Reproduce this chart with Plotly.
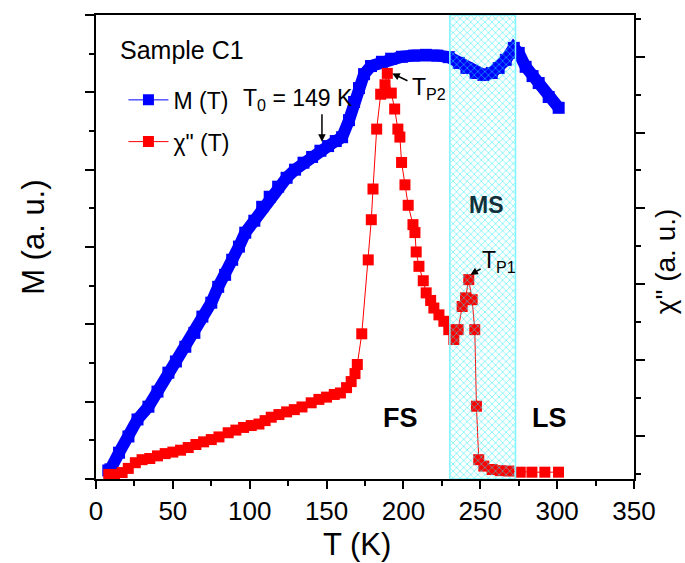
import plotly.graph_objects as go

FONT = "Liberation Sans, Arial, sans-serif"

# Magnetisation M(T), left axis (a. u.)
m_temp = [8, 9.4, 15, 21.1, 27, 34.1, 40, 47.1, 52, 58.1, 64, 69.2, 75, 79.5, 84,
          88.6, 93, 97.1, 103, 108.1, 113, 118.5, 124, 129.5, 135, 140.6, 146, 151,
          156, 160.1, 164.6, 167.9, 171.1, 174.4, 178.9, 186, 192, 199, 207, 214.6,
          222, 229.5, 236, 241, 247, 252, 257.5, 262, 266.6, 271.8, 275, 279.5, 284,
          288, 294.5, 301]
m_val = [0.22, 0.25, 0.68, 1.10, 1.54, 1.87, 2.26, 2.75, 3.04, 3.42, 3.78, 4.20, 4.56,
         4.97, 5.28, 5.67, 6.01, 6.37, 6.68, 7.04, 7.30, 7.56, 7.79, 8.00, 8.18, 8.33,
         8.49, 8.61, 8.74, 8.84, 9.28, 9.75, 10.11, 10.47, 10.68, 10.79, 10.87, 10.92,
         10.95, 10.97, 10.95, 10.91, 10.76, 10.63, 10.50, 10.45, 10.50, 10.63, 10.84,
         11.15, 11.02, 10.66, 10.42, 10.24, 9.88, 9.60]

# Imaginary ac susceptibility chi''(T), right axis (a. u.)
chi_temp = [8.3, 12, 17, 21, 25.6, 30, 35, 40, 45, 50, 55, 60, 65, 70, 75, 80, 86, 91,
            96, 101, 106, 110, 114, 119, 124, 129, 134, 140, 145, 150, 155, 159, 163,
            166, 168.5, 170, 172.9, 177.1, 179.1, 180.2, 182.6, 185.2, 188, 189.5,
            192.1, 194.3, 196.4, 197.7, 198.8, 201, 203.1, 206.2, 207.5, 208.3, 210.1,
            212.9, 214.8, 217.7, 219.8, 223.1, 226.3, 229.5, 232.8, 235.6, 238.2,
            240.4, 242.5, 244.7, 246.4, 247.5, 249, 252.3, 257.7, 263, 268.5, 276,
            283.6, 292, 300.9]
chi_val = [-0.02, -0.02, 0.03, 0.14, 0.29, 0.37, 0.40, 0.47, 0.53, 0.57, 0.62, 0.69,
           0.77, 0.84, 0.90, 0.97, 1.08, 1.15, 1.22, 1.27, 1.31, 1.40, 1.49, 1.56, 1.63,
           1.69, 1.76, 1.87, 1.96, 2.02, 2.09, 2.13, 2.27, 2.43, 2.64, 2.88, 3.69, 5.64,
           6.70, 7.51, 9.09, 10.01, 10.26, 10.56, 10.04, 9.62, 9.09, 8.88, 8.21, 7.62,
           7.08, 6.57, 6.36, 5.85, 5.47, 5.09, 4.77, 4.57, 4.37, 4.19, 4.02, 3.80, 3.54,
           3.80, 4.41, 4.64, 5.12, 4.59, 3.80, 1.78, 0.37, 0.20, 0.11, 0.08, 0.07, 0.04,
           0.04, 0.04, 0.04]

# Temperature window of the mixed state (MS)
ms_window = [230.2, 272.9]

x_range = [0, 350]
m_range = [0, 12]
chi_range = [-0.14, 12.1]

fig = go.Figure()

fig.add_trace(go.Scatter(
    x=m_temp, y=m_val, mode="lines+markers", yaxis="y",
    line=dict(color="#0000ff", width=12), marker=dict(symbol="square", size=12, color="#0000ff"),
    showlegend=False, hoverinfo="skip"))

fig.add_trace(go.Scatter(
    x=chi_temp, y=chi_val, mode="lines+markers", yaxis="y2",
    line=dict(color="#ff0000", width=1), marker=dict(symbol="square", size=11, color="#ff0000"),
    showlegend=False, hoverinfo="skip"))

# hatched band marking the mixed-state window, laid over the data
x0, x1 = ms_window
fig.add_trace(go.Scatter(
    x=[x0, x1, x1, x0, x0], y=[chi_range[0], chi_range[0], chi_range[1], chi_range[1], chi_range[0]],
    yaxis="y2", mode="lines", fill="toself", fillcolor="rgba(0,0,0,0)",
    fillpattern=dict(shape="x", fgcolor="#22eef5", bgcolor="rgba(0,0,0,0)", size=5,
                     solidity=0.3, fgopacity=0.6),
    line=dict(color="#7ff6ff", width=1.5), showlegend=False, hoverinfo="skip"))

# legend entries
fig.add_trace(go.Scatter(
    x=[None], y=[None], mode="lines+markers", name="M (T)", legend="legend",
    line=dict(color="#0000ff", width=1), marker=dict(symbol="square", size=11, color="#0000ff")))
fig.add_trace(go.Scatter(
    x=[None], y=[None], mode="lines+markers", name="\u03c7\" (T)", legend="legend2",
    line=dict(color="#ff0000", width=1), marker=dict(symbol="square", size=11, color="#ff0000")))

axis_common = dict(showgrid=False, zeroline=False, showline=True, linecolor="black",
                   linewidth=1.5, ticks="outside", tickcolor="black", tickwidth=1.5)

text_font = dict(family=FONT, size=23, color="black")
title_font = dict(family=FONT, size=31, color="black")

annotations = [
    dict(x=14, y=11.10, xref="x", yref="y", text="Sample C1", showarrow=False,
         xanchor="left", yanchor="middle", font=dict(family=FONT, size=25, color="black")),
    dict(x=94.3, y=9.81, xref="x", yref="y", text="T<sub>0</sub> = 149 K", showarrow=False,
         xanchor="left", yanchor="middle", font=text_font),
    dict(x=147, y=8.72, ax=147, ay=9.47, xref="x", yref="y", axref="x", ayref="y", text="",
         showarrow=True, arrowhead=2, arrowsize=1, arrowwidth=1.5, arrowcolor="black"),
    dict(x=204.2, y=10.11, xref="x", yref="y", text="T<sub>P2</sub>", showarrow=False,
         xanchor="left", yanchor="middle", font=text_font),
    dict(x=192.7, y=10.49, ax=203.6, ay=10.28, xref="x", yref="y", axref="x", ayref="y",
         text="", showarrow=True, arrowhead=2, arrowsize=1, arrowwidth=1.5, arrowcolor="black"),
    dict(x=249.7, y=5.62, xref="x", yref="y", text="T<sub>P1</sub>", showarrow=False,
         xanchor="left", yanchor="middle", font=text_font),
    dict(x=243.6, y=5.28, ax=251.2, ay=5.46, xref="x", yref="y", axref="x", ayref="y",
         text="", showarrow=True, arrowhead=2, arrowsize=1, arrowwidth=1.5, arrowcolor="black"),
    dict(x=254.2, y=7.09, xref="x", yref="y", text="<b>MS</b>", showarrow=False,
         font=dict(family=FONT, size=23, color="#10303a")),
    dict(x=198.4, y=1.59, xref="x", yref="y", text="<b>FS</b>", showarrow=False,
         font=dict(family=FONT, size=27, color="black")),
    dict(x=295.1, y=1.59, xref="x", yref="y", text="<b>LS</b>", showarrow=False,
         font=dict(family=FONT, size=27, color="black")),
    # axis titles
    dict(x=-0.115, y=0.52, xref="paper", yref="paper", text="M (a. u.)", textangle=-90,
         xanchor="center", yanchor="middle", showarrow=False, font=title_font),
    dict(x=1.06, y=0.47, xref="paper", yref="paper", text="\u03c7\" (a. u.)", textangle=-90,
         xanchor="center", yanchor="middle", showarrow=False,
         font=dict(family=FONT, size=28, color="black")),
    dict(x=0.485, y=-0.141, xref="paper", yref="paper", text="T (K)", showarrow=False,
         xanchor="center", yanchor="middle", font=title_font),
]

legend_common = dict(bgcolor="rgba(0,0,0,0)", borderwidth=0, xanchor="left", yanchor="middle",
                     font=dict(family=FONT, size=23, color="black"), itemwidth=40)

fig.update_layout(
    width=685, height=563,
    margin=dict(l=96, r=51, t=15, b=84, autoexpand=False),
    paper_bgcolor="white", plot_bgcolor="white",
    font=dict(family=FONT, color="black"),
    xaxis=dict(range=x_range, tick0=0, dtick=50, ticklen=8, mirror=True,
               minor=dict(dtick=25, ticklen=5, ticks="outside", tickcolor="black", tickwidth=1.5),
               tickfont=dict(family=FONT, size=26, color="black"), **axis_common),
    yaxis=dict(range=m_range, tick0=0, dtick=2, ticklen=9, showticklabels=False,
               minor=dict(tick0=0, dtick=1, ticklen=5, ticks="outside", tickcolor="black", tickwidth=1.5),
               **axis_common),
    yaxis2=dict(range=chi_range, overlaying="y", side="right", tick0=1, dtick=2, ticklen=9,
                showticklabels=False,
                minor=dict(tick0=0, dtick=1, ticklen=5, ticks="outside", tickcolor="black", tickwidth=1.5),
                **axis_common),
    legend=dict(x=0.051, y=0.817, **legend_common),
    legend2=dict(x=0.051, y=0.727, **legend_common),
    annotations=annotations,
)

fig.write_html("out.html")
